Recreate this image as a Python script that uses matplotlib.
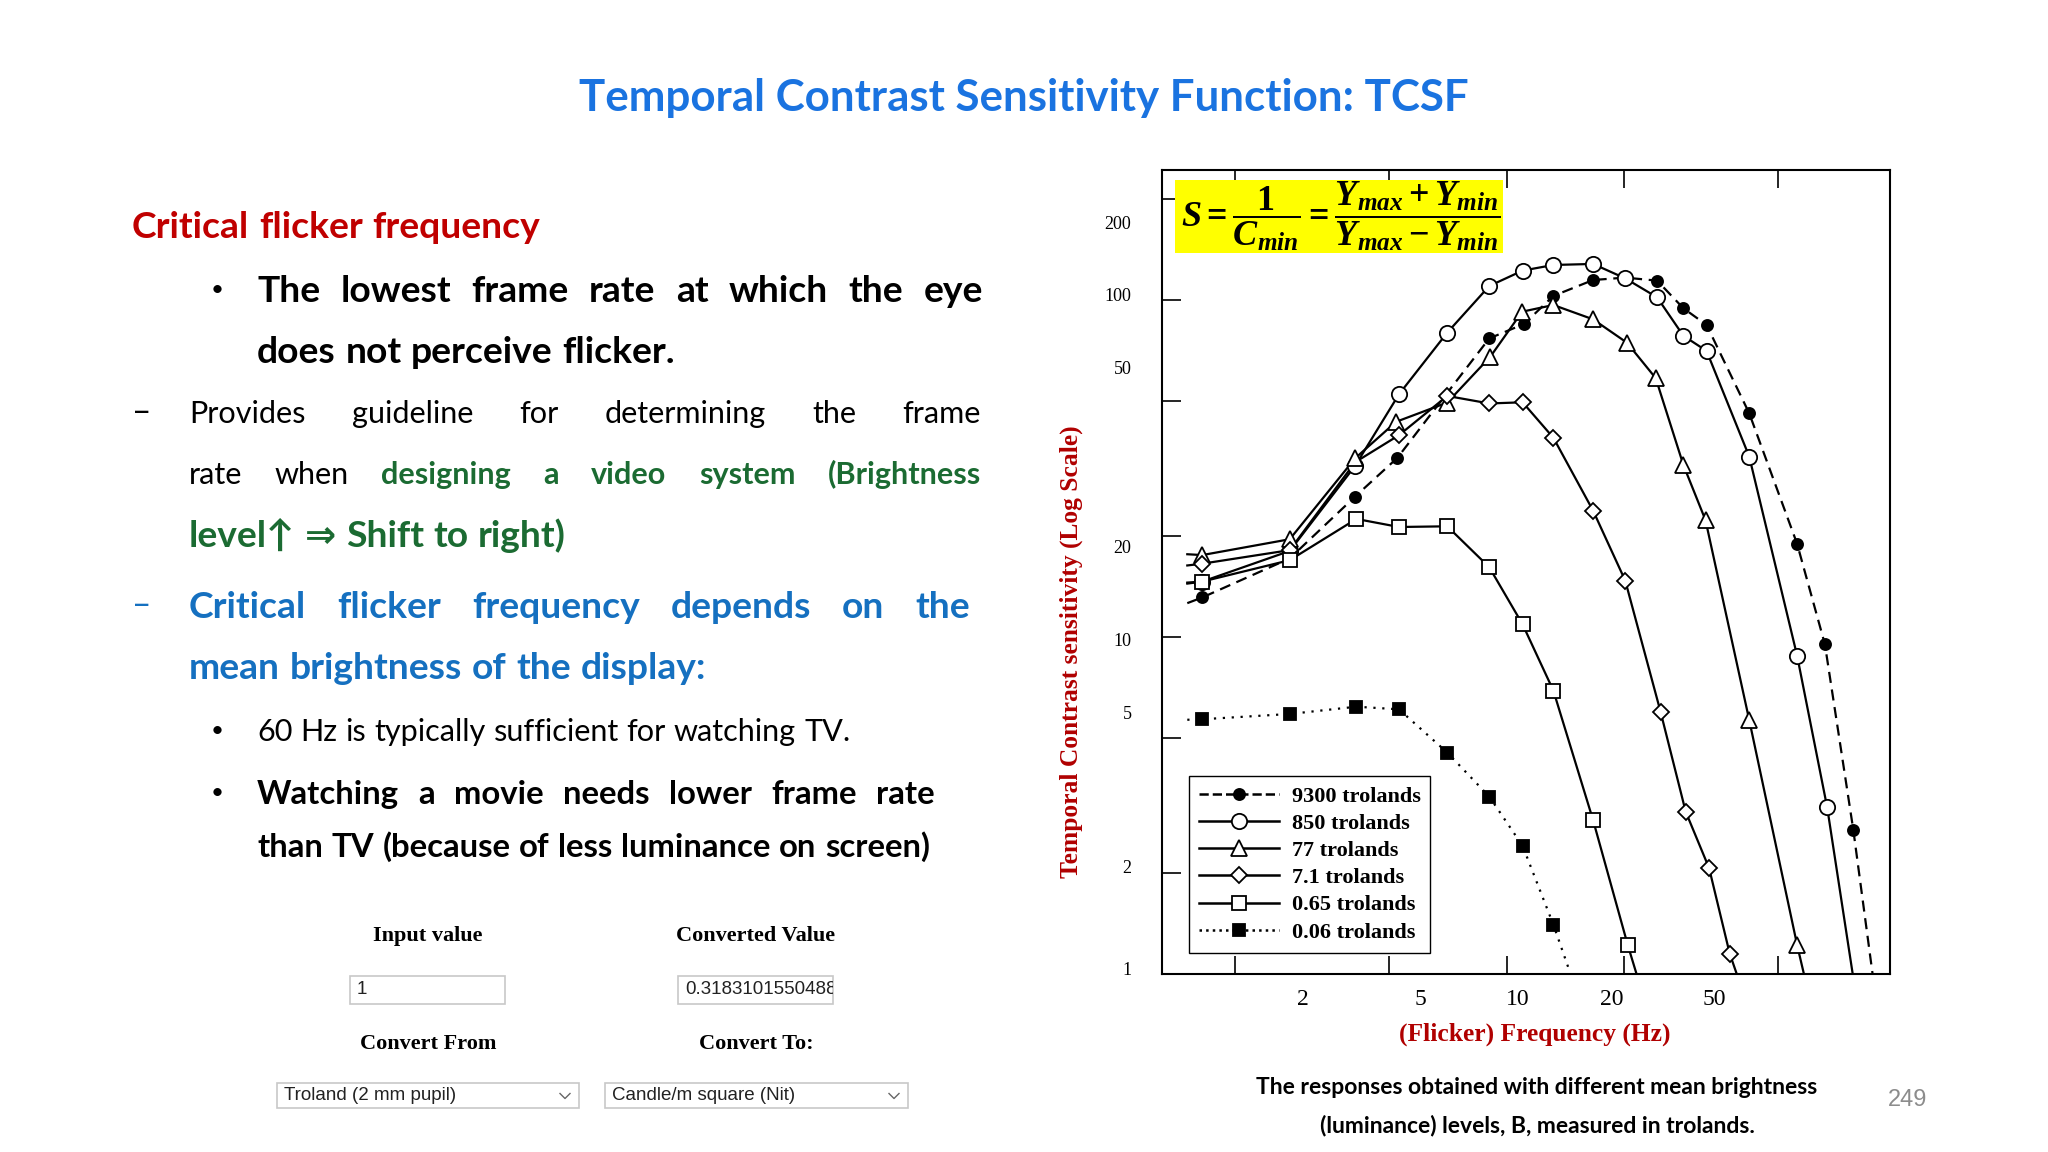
import matplotlib
matplotlib.use("Agg")
import matplotlib.pyplot as plt
import matplotlib.lines as mlines
from matplotlib.patches import Rectangle
from matplotlib.ticker import FixedLocator, FixedFormatter, NullFormatter

W, H = 2048, 1152

# ---- data (frequency in Hz, sensitivity) ----
# markers
f_9300 = [1.65, 4.08, 5.24, 9.03, 11.1, 13.2, 16.7, 24.4, 28.5, 32.7, 42.1, 55.9, 65.9, 78.0]
s_9300 = [13.1, 26.1, 34.0, 76.9, 84.9, 102.8, 114.6, 114.1, 94.5, 84.3, 46.1, 18.9, 9.51, 2.67]
f_850 = [1.65, 2.77, 4.08, 5.29, 7.04, 9.03, 11.0, 13.2, 16.7, 20.2, 24.4, 28.5, 32.7, 42.1, 55.9, 66.8]
s_850 = [14.6, 18.0, 32.2, 52.5, 80.0, 110, 122.2, 127, 127.9, 115.9, 101.8, 78.3, 70.6, 34.3, 8.80, 3.12]
f_77 = [1.65, 2.77, 4.08, 5.20, 7.04, 9.09, 10.97, 13.2, 16.7, 20.4, 24.2, 28.5, 32.5, 42.1, 55.9]
s_77 = [17.5, 19.5, 33.9, 43.5, 49.6, 67.9, 92.3, 96.6, 87.6, 74.7, 58.6, 32.4, 22.2, 5.67, 1.22]
f_7 = [1.65, 2.77, 5.29, 7.04, 9.03, 11.0, 13.2, 16.7, 20.2, 24.9, 28.9, 33.2, 37.5]
s_7 = [16.5, 18.1, 39.7, 51.9, 49.3, 49.7, 39.0, 23.7, 14.7, 6.00, 3.03, 2.06, 1.15]
f_065 = [1.65, 2.77, 4.11, 5.29, 7.04, 9.03, 11.0, 13.2, 16.7, 20.5]
s_065 = [14.6, 16.9, 22.4, 21.2, 21.3, 16.1, 10.9, 6.93, 2.86, 1.22]
f_006 = [1.65, 2.77, 4.11, 5.29, 7.04, 9.03, 11.0, 13.2]
s_006 = [5.70, 5.91, 6.21, 6.10, 4.54, 3.36, 2.40, 1.40]

# curve traces (marker points plus where the drawn curves start / end)
cf_9300 = [1.51, 1.65, 2.77, 4.08, 5.24, 7.04, 9.03, 11.1, 13.2, 16.7, 20.2, 24.4, 28.5, 32.7, 42.1, 55.9, 65.9, 78.0, 87.4]
cs_9300 = [12.6, 13.1, 17.1, 26.1, 34.0, 53.0, 76.9, 84.9, 102.8, 114.6, 116.5, 114.1, 94.5, 84.3, 46.1, 18.9, 9.51, 2.67, 1.0]
cf_850 = [1.51] + f_850 + [77.7]
cs_850 = [14.5] + s_850 + [1.0]
cf_77 = [1.51] + f_77 + [58.2]
cs_77 = [17.6] + s_77 + [1.0]
cf_7 = [1.51, 1.65, 2.77, 4.08, 5.29, 7.04, 9.03, 11.0, 13.2, 16.7, 20.2, 24.9, 28.9, 33.2, 37.5, 39.1]
cs_7 = [16.3, 16.5, 18.1, 33.0, 39.7, 51.9, 49.3, 49.7, 39.0, 23.7, 14.7, 6.00, 3.03, 2.06, 1.15, 1.0]
cf_065 = [1.51] + f_065 + [21.6]
cs_065 = [14.4] + s_065 + [1.0]
cf_006 = [1.51] + f_006 + [14.4]
cs_006 = [5.68] + s_006 + [1.05]

labels = ["9300 trolands", "850 trolands", "77 trolands", "7.1 trolands", "0.65 trolands", "0.06 trolands"]

# axis ticks as printed on the slide
x_marks = [2, 5, 10, 20, 50]
x_label_pos = [3.0, 6.0, 10.7, 18.7, 34.3]
x_labels = ["2", "5", "10", "20", "50"]
y_marks = [2, 5, 10, 20, 50, 100, 200]
y_label_pos = [1.04, 2.08, 5.95, 9.8, 18.6, 62.9, 103.5, 170]
y_labels = ["1", "2", "5", "10", "20", "50", "100", "200"]

plt.rcParams['font.family'] = ['Liberation Serif', 'DejaVu Serif']
plt.rcParams['mathtext.fontset'] = 'custom'
plt.rcParams['mathtext.it'] = 'Liberation Serif:italic:bold'
plt.rcParams['mathtext.rm'] = 'Liberation Serif:bold'
plt.rcParams['mathtext.bf'] = 'Liberation Serif:bold'

BODY = ['Lato', 'DejaVu Sans']
RED = '#C00000'
GREEN = '#1B6B32'
BLUE = '#1570C0'

fig = plt.figure(figsize=(W / 100, H / 100), dpi=100)
fig.patch.set_facecolor('white')
renderer = fig.canvas.get_renderer()


def fx(x):
    return x / W


def fy(y):
    return 1 - y / H


def fit_size(txt, target, weight, family=BODY, base=20):
    # font size that makes txt about target pixels wide
    t = fig.text(0, 0, txt, fontsize=base, fontweight=weight, family=family)
    w = t.get_window_extent(renderer).width
    t.remove()
    return base * target / w


# ---- chart ----
ax = fig.add_axes([fx(1162), fy(974), 728 / W, 804 / H])
ax.set_xscale('log')
ax.set_yscale('log')

k = dict(color='black', lw=1.6)
ax.plot(cf_9300, cs_9300, ls=(0, (5, 3)), **k)
ax.plot(cf_850, cs_850, **k)
ax.plot(cf_77, cs_77, **k)
ax.plot(cf_7, cs_7, **k)
ax.plot(cf_065, cs_065, **k)
ax.plot(cf_006, cs_006, ls=(0, (1, 3)), **k)

mk = [
    (f_9300, s_9300, 'o', 8, 'black'),
    (f_850, s_850, 'o', 11, 'white'),
    (f_77, s_77, '^', 11, 'white'),
    (f_7, s_7, 'D', 8, 'white'),
    (f_065, s_065, 's', 10, 'white'),
    (f_006, s_006, 's', 8, 'black'),
]
for fs_, ss_, m, ms, fc in mk:
    ax.plot(fs_, ss_, ls='none', marker=m, ms=ms, mfc=fc, mec='black', mew=1.3, zorder=4)

handles = []
styles = ['--', '-', '-', '-', '-', ':']
for (fs_, ss_, m, ms, fc), st, lab in zip(mk, styles, labels):
    handles.append(mlines.Line2D([], [], color='black', lw=1.8, ls=st, marker=m, ms=ms,
                                 mfc=fc, mec='black', mew=1.3, label=lab))
leg = ax.legend(handles=handles, loc='lower left', bbox_to_anchor=(0.0376, 0.0265),
                borderaxespad=0, numpoints=1, handlelength=3.6, handletextpad=0.55,
                labelspacing=0.3, borderpad=0.45, fancybox=False, framealpha=1, edgecolor='black',
                prop=dict(family='Liberation Serif', weight='bold', size=16))
leg.get_frame().set_linewidth(1.0)

ax.set_xlim(1.30, 96.9)
ax.set_ylim(1.0, 243)
ax.xaxis.set_major_locator(FixedLocator(x_label_pos))
ax.xaxis.set_major_formatter(FixedFormatter(x_labels))
ax.xaxis.set_minor_locator(FixedLocator(x_marks))
ax.xaxis.set_minor_formatter(NullFormatter())
ax.yaxis.set_major_locator(FixedLocator(y_label_pos))
ax.yaxis.set_major_formatter(FixedFormatter(y_labels))
ax.yaxis.set_minor_locator(FixedLocator(y_marks))
ax.yaxis.set_minor_formatter(NullFormatter())
ax.tick_params(which='major', length=0)
ax.tick_params(axis='x', which='major', labelsize=17, pad=11)
ax.tick_params(axis='y', which='major', labelsize=13, pad=22)
ax.tick_params(axis='x', which='minor', direction='in', length=13, width=1.2, top=True, bottom=True)
ax.tick_params(axis='y', which='minor', direction='in', length=14, width=1.2, left=True, right=False)
for sp in ax.spines.values():
    sp.set_linewidth(1.5)

# formula box
ax.add_patch(Rectangle((0.018, 0.8968), 0.45, 0.0908, transform=ax.transAxes,
                       facecolor='#FFFF00', edgecolor='none', zorder=3))
ax.text(0.245, 0.942, r'$S=\dfrac{1}{C_{min}}=\dfrac{Y_{max}+Y_{min}}{Y_{max}-Y_{min}}$',
        transform=ax.transAxes, ha='center', va='center', fontsize=26, zorder=5)

fig.text(fx(1071), fy(652), 'Temporal Contrast sensitivity (Log Scale)', rotation=90,
         ha='center', va='center', fontsize=18.4, fontweight='bold', color='#B00000')
fig.text(fx(1535), fy(1034), '(Flicker) Frequency (Hz)', ha='center', va='center',
         fontsize=18.4, fontweight='bold', color='#B00000')

cap_fs = fit_size('The responses obtained with different mean brightness', 563, 'bold')
fig.text(fx(1537), fy(1087), 'The responses obtained with different mean brightness',
         ha='center', va='center', fontsize=cap_fs, fontweight='bold', family=BODY, color='black')
fig.text(fx(1537), fy(1126), '(luminance) levels, B, measured in trolands.',
         ha='center', va='center', fontsize=cap_fs, fontweight='bold', family=BODY, color='black')
fig.text(fx(1908), fy(1100), '249', ha='center', va='center', fontsize=17,
         family='Liberation Sans', color='#8c8c8c')

# ---- slide title ----
title = 'Temporal Contrast Sensitivity Function: TCSF'
fig.text(fx(1024), fy(98), title, ha='center', va='center',
         fontsize=fit_size(title, 891, 'bold'), fontweight='bold', family=BODY, color='#1A73E0')

# ---- left text block ----
FS_B = fit_size('does not perceive flicker.', 417, 'bold')
FS_R = fit_size('60 Hz is typically sufficient for watching TV.', 594, 'normal')
FS_B2 = fit_size('than TV (because of less luminance on screen)', 671, 'bold')


def put_words(words, x0, yc, x1=None, fs=FS_B):
    arts = []
    yb = yc + 0.33 * fs * 100 / 72
    for txt, wt, col in words:
        for w in txt.split():
            arts.append(fig.text(fx(x0), fy(yb), w, fontsize=fs, fontweight=wt, color=col,
                                 family=BODY, ha='left', va='baseline'))
    widths = [a.get_window_extent(renderer).width for a in arts]
    if x1 is None or len(arts) < 2:
        gap = 0.26 * fs * 100 / 72
    else:
        gap = (x1 - x0 - sum(widths)) / (len(arts) - 1)
    x = x0
    for a, w in zip(arts, widths):
        a.set_x(fx(x))
        x += w + gap


def mark(x, y, s, col='black', size=16):
    fig.text(fx(x), fy(y), s, fontsize=size, color=col, family=BODY, ha='left', va='center')


put_words([('Critical flicker frequency', 'bold', RED)], 132, 226)
mark(211, 290, '•')
put_words([('The lowest frame rate at which the eye', 'bold', 'black')], 257, 290, 983)
put_words([('does not perceive flicker.', 'bold', 'black')], 257, 351)
mark(132, 413, '–', size=24)
put_words([('Provides guideline for determining the frame', 'normal', 'black')], 189, 413, 981, fs=FS_R)
put_words([('rate when', 'normal', 'black'), ('designing a video system (Brightness', 'bold', GREEN)],
          189, 474, 981, fs=FS_R)
put_words([('level↑ ⇒ Shift to right)', 'bold', GREEN)], 189, 535)
mark(132, 606, '–', col=BLUE, size=24)
put_words([('Critical flicker frequency depends on the', 'bold', BLUE)], 189, 606, 970)
put_words([('mean brightness of the display:', 'bold', BLUE)], 189, 667)
mark(211, 731, '•')
put_words([('60 Hz is typically sufficient for watching TV.', 'normal', 'black')], 257, 731, fs=FS_R)
mark(211, 793, '•')
put_words([('Watching a movie needs lower frame rate', 'bold', 'black')], 257, 793, 935, fs=FS_B2)
put_words([('than TV (because of less luminance on screen)', 'bold', 'black')], 257, 846, fs=FS_B2)

# ---- converter widget ----
lab = dict(ha='center', va='center', fontsize=16, fontweight='bold', family='Liberation Serif')
fig.text(fx(428), fy(936), 'Input value', **lab)
fig.text(fx(756), fy(936), 'Converted Value', **lab)
fig.text(fx(428), fy(1044), 'Convert From', **lab)
fig.text(fx(756), fy(1044), 'Convert To:', **lab)


def box(x0, y0, x1, y1, txt, chevron=False):
    r = Rectangle((fx(x0), fy(y1)), (x1 - x0) / W, (y1 - y0) / H, transform=fig.transFigure,
                  facecolor='white', edgecolor='#c8c8c8', lw=1.2)
    fig.add_artist(r)
    t = fig.text(fx(x0 + 7), fy((y0 + y1) / 2), txt, ha='left', va='center', fontsize=13.5,
                 family='Liberation Sans', color='#222222')
    t.set_clip_path(r)
    if chevron:
        cx, cy = x1 - 14, (y0 + y1) / 2
        fig.add_artist(mlines.Line2D([fx(cx - 5), fx(cx), fx(cx + 5)],
                                     [fy(cy - 2), fy(cy + 3), fy(cy - 2)],
                                     transform=fig.transFigure, color='#666666', lw=1.0))


box(350, 976, 505, 1004, '1')
box(678, 976, 833, 1004, '0.3183101550488')
box(277, 1083, 579, 1108, 'Troland (2 mm pupil)', chevron=True)
box(605, 1083, 908, 1108, 'Candle/m square (Nit)', chevron=True)

fig.savefig('out.png', dpi=100, facecolor='white')
